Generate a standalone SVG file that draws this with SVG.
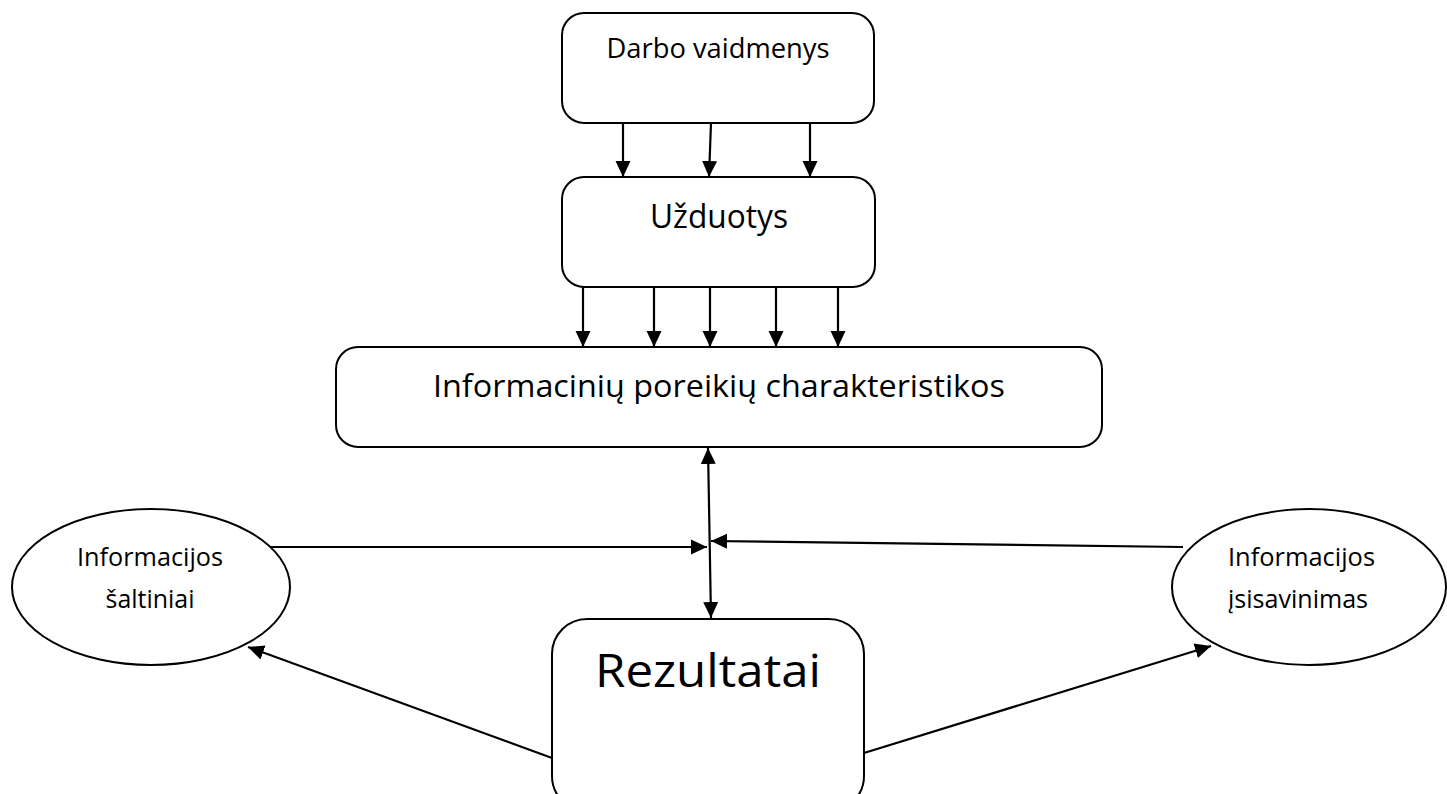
<svg xmlns="http://www.w3.org/2000/svg" width="1447" height="794" viewBox="0 0 1447 794">
<style>
.box{fill:#fff;stroke:#000;stroke-width:2}
.lbl{font-family:"Open Sans","Lato","Liberation Sans",sans-serif;fill:#000}
.c{stroke:#000;stroke-width:2.2;fill:none;marker-end:url(#ah)}
</style>
<defs>
<marker id="ah" markerUnits="userSpaceOnUse" markerWidth="17" markerHeight="17" refX="16" refY="8" orient="auto-start-reverse" viewBox="0 0 17 17">
<path d="M0,0.5 L16,8 L0,15.5 z" fill="#000"/>
</marker>
</defs>
<rect x="0" y="0" width="1447" height="794" fill="#fff"/>
<g id="connectors">
<line class="c" x1="623" y1="123" x2="623" y2="177"/>
<line class="c" x1="711" y1="123" x2="709" y2="177"/>
<line class="c" x1="810" y1="123" x2="810" y2="177"/>
<line class="c" x1="583" y1="287" x2="583" y2="347"/>
<line class="c" x1="654" y1="287" x2="654" y2="347"/>
<line class="c" x1="710" y1="287" x2="710" y2="347"/>
<line class="c" x1="776" y1="287" x2="776" y2="347"/>
<line class="c" x1="838" y1="287" x2="838" y2="347"/>
<line class="c" x1="708" y1="448" x2="711" y2="618" style="marker-start:url(#ah)"/>
<line class="c" x1="270" y1="547" x2="707" y2="547"/>
<line class="c" x1="1183" y1="547" x2="711" y2="541"/>
<line class="c" x1="552" y1="758" x2="248" y2="647"/>
<line class="c" x1="864" y1="753" x2="1211" y2="646"/>
</g>
<g id="darbo">
<rect class="box" x="562" y="13" width="312" height="110" rx="22"/>
<text class="lbl" x="718" y="58" font-size="28" text-anchor="middle" textLength="223" lengthAdjust="spacingAndGlyphs">Darbo vaidmenys</text>
</g>
<g id="uzduotys">
<rect class="box" x="562" y="177" width="313" height="110" rx="22"/>
<text class="lbl" x="719" y="228" font-size="32" text-anchor="middle" textLength="138" lengthAdjust="spacingAndGlyphs">Užduotys</text>
</g>
<g id="poreikiai">
<rect class="box" x="336" y="347" width="766" height="100" rx="22"/>
<text class="lbl" x="719" y="397" font-size="31" text-anchor="middle" textLength="572" lengthAdjust="spacingAndGlyphs">Informacinių poreikių charakteristikos</text>
</g>
<g id="saltiniai">
<ellipse class="box" cx="151" cy="587" rx="139" ry="78"/>
<text class="lbl" x="150" y="566" font-size="25" text-anchor="middle" textLength="146" lengthAdjust="spacingAndGlyphs">Informacijos</text>
<text class="lbl" x="150" y="608" font-size="25" text-anchor="middle" textLength="89" lengthAdjust="spacingAndGlyphs">šaltiniai</text>
</g>
<g id="isisavinimas">
<ellipse class="box" cx="1309" cy="587" rx="137" ry="78"/>
<text class="lbl" x="1228" y="566" font-size="25" textLength="147" lengthAdjust="spacingAndGlyphs">Informacijos</text>
<text class="lbl" x="1228" y="608" font-size="25" textLength="140" lengthAdjust="spacingAndGlyphs">įsisavinimas</text>
</g>
<g id="rezultatai">
<rect class="box" x="552" y="619" width="312" height="192" rx="35"/>
<text class="lbl" x="708" y="687" font-size="45" text-anchor="middle" textLength="226" lengthAdjust="spacingAndGlyphs">Rezultatai</text>
</g>
</svg>
